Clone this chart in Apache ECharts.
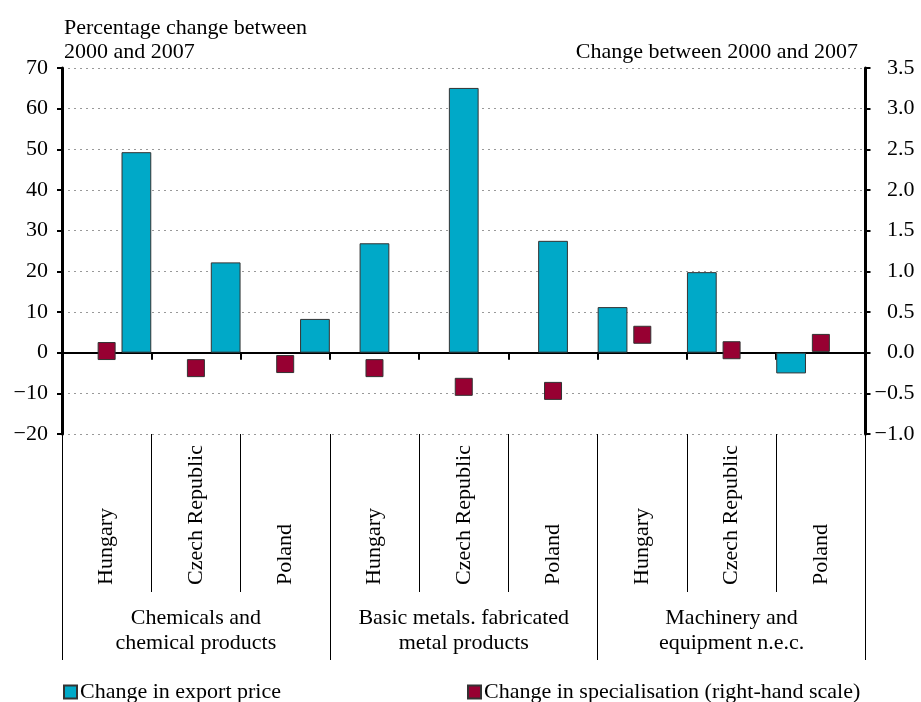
<!DOCTYPE html>
<html>
<head>
<meta charset="utf-8">
<script src="https://cdn.jsdelivr.net/npm/echarts@6/dist/echarts.min.js"></script>
<style>
html,body{margin:0;padding:0;background:#fff;}
#chart{width:921px;height:702px;}
</style>
</head>
<body>
<div id="chart"></div>
<script>
// ---- data ----
var countries = ['Hungary', 'Czech Republic', 'Poland', 'Hungary', 'Czech Republic', 'Poland', 'Hungary', 'Czech Republic', 'Poland'];
var sectors = ['Chemicals and\nchemical products', 'Basic metals. fabricated\nmetal products', 'Machinery and\nequipment n.e.c.'];
var sectorOfCategory = [0, 0, 0, 1, 1, 1, 2, 2, 2];
var exportPrice = [49.3, 22.2, 8.3, 26.9, 65.1, 27.5, 11.2, 19.8, -5.1];
var specialisation = [0.02, -0.19, -0.14, -0.19, -0.42, -0.47, 0.22, 0.03, 0.12];
var leftTicks = {min: -20, max: 70, interval: 10};
var rightTicks = {min: -1.0, max: 3.5, interval: 0.5};
var barName = 'Change in export price';
var sqName = 'Change in specialisation (right-hand scale)';

var FONT = 'Liberation Serif';
var FS = 22;
var BAR_COLOR = '#00A9C8';
var SQ_COLOR = '#970032';

function minus(s) { return String(s).replace('-', '\u2212'); }

// bars: one series per sector, placed in slots (reverse order like the original)
var slotOrder = [2, 1, 0];
var barSeries = slotOrder.map(function (g) {
  return {
    name: barName,
    type: 'bar',
    xAxisIndex: 0,
    yAxisIndex: 0,
    barGap: '0%',
    barCategoryGap: '0%',
    itemStyle: {color: BAR_COLOR, borderColor: '#333', borderWidth: 1},
    data: exportPrice.map(function (v, i) { return sectorOfCategory[i] === g ? v : null; }),
    z: 2
  };
});

var option = {
  animation: false,
  textStyle: {fontFamily: FONT},
  title: [
    {text: 'Percentage change between\n2000 and 2007', left: 59, top: 11,
     textStyle: {fontFamily: FONT, fontSize: FS, fontWeight: 'normal', color: '#000', lineHeight: 24}},
    {text: 'Change between 2000 and 2007', right: 58, top: 35,
     textStyle: {fontFamily: FONT, fontSize: FS, fontWeight: 'normal', color: '#000', lineHeight: 24}}
  ],
  legend: [
    {data: [{name: barName, icon: 'rect'}], left: 58, top: 676, itemWidth: 13, itemHeight: 13, itemGap: 0,
     textStyle: {fontFamily: FONT, fontSize: FS, color: '#000', padding: [0, 0, 0, -2]}},
    {data: [{name: sqName, icon: 'rect'}], left: 462, top: 676, itemWidth: 13, itemHeight: 13, itemGap: 0,
     textStyle: {fontFamily: FONT, fontSize: FS, color: '#000', padding: [0, 0, 0, -2]}}
  ],
  grid: {left: 62, right: 55.5, top: 68, bottom: 268, containLabel: false},
  xAxis: [
    { // country labels and short separators at the bottom
      type: 'category', data: countries, position: 'bottom',
      axisLine: {show: false, onZero: false},
      axisTick: {show: true, interval: 0, length: 158, lineStyle: {color: '#000', width: 1}},
      axisLabel: {interval: 0, rotate: 90, margin: 151, align: 'left', verticalAlign: 'middle',
                  fontFamily: FONT, fontSize: FS, color: '#000'},
      splitLine: {show: false}
    },
    { // sector labels and long separators
      type: 'category', data: sectors, position: 'bottom',
      axisLine: {show: false, onZero: false},
      axisTick: {show: true, interval: 0, length: 226, lineStyle: {color: '#000', width: 1}},
      axisLabel: {interval: 0, margin: 172, fontFamily: FONT, fontSize: FS, color: '#000', lineHeight: 25},
      splitLine: {show: false}
    },
    { // zero line with ticks
      type: 'category', data: countries, position: 'bottom',
      axisLine: {show: true, onZero: true, lineStyle: {color: '#000', width: 2}},
      axisTick: {show: true, interval: 0, length: 7, lineStyle: {color: '#000', width: 2}},
      axisLabel: {show: false, interval: 0},
      splitLine: {show: false}
    }
  ],
  yAxis: [
    {
      type: 'value', position: 'left', min: leftTicks.min, max: leftTicks.max, interval: leftTicks.interval,
      axisLine: {show: true, lineStyle: {color: '#000', width: 3}},
      axisTick: {show: true, length: 5, lineStyle: {color: '#000', width: 2}},
      axisLabel: {margin: 14, fontFamily: FONT, fontSize: FS, color: '#000', formatter: function (v) { return minus(v); }},
      splitLine: {show: true, lineStyle: {color: '#999', width: 1, type: [2, 4]}}
    },
    {
      type: 'value', position: 'right', min: rightTicks.min, max: rightTicks.max, interval: rightTicks.interval,
      axisLine: {show: true, lineStyle: {color: '#000', width: 3}},
      axisTick: {show: true, length: 5, lineStyle: {color: '#000', width: 2}},
      axisLabel: {margin: 49, align: 'right', fontFamily: FONT, fontSize: FS, color: '#000',
                  formatter: function (v) { return minus(v.toFixed(1)); }},
      splitLine: {show: false}
    }
  ],
  series: barSeries.concat([
    {
      name: sqName,
      type: 'scatter',
      xAxisIndex: 0,
      yAxisIndex: 1,
      symbol: 'rect',
      symbolSize: 17,
      itemStyle: {color: SQ_COLOR, borderColor: '#333', borderWidth: 1, opacity: 1},
      data: specialisation,
      z: 5
    }
  ])
};

var chart = echarts.init(document.getElementById('chart'), null, {renderer: 'canvas'});
chart.setOption(option);
</script>
</body>
</html>
